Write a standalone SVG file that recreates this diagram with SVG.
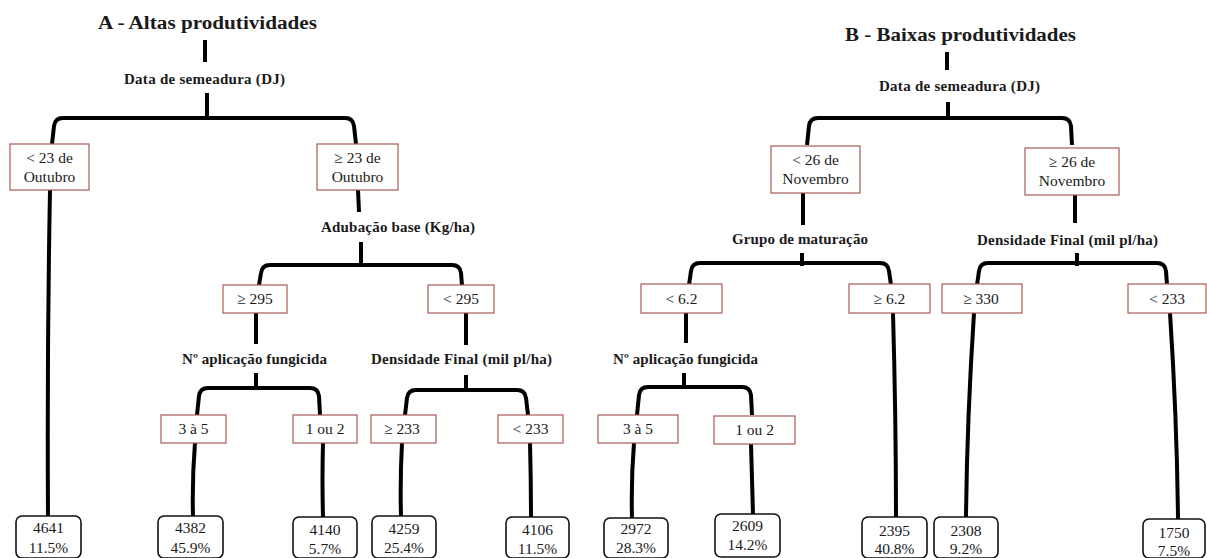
<svg xmlns="http://www.w3.org/2000/svg" width="1207" height="558" viewBox="0 0 1207 558">
<style>
text{font-family:"Liberation Serif","Times New Roman",serif;fill:#1a1a1a}
.title{font-size:18px;font-weight:bold}
.titleb{font-size:19.5px;font-weight:bold}
.lbl{font-size:15px;font-weight:bold}
.cond{font-size:15.5px}
.leaf{font-size:15.5px}
.cbox{fill:#fff;stroke:#a85a55;stroke-width:1.2}
.lbox{fill:#fff;stroke:#111;stroke-width:1.6}
.con{fill:none;stroke:#000;stroke-width:4;stroke-linecap:butt}
</style>
<rect width="1207" height="558" fill="#fff"/>
<g id="connectors">
<path class="con" d="M205 40 L205 62"/>
<path class="con" d="M207 93 L207 120"/>
<path class="con" d="M52 144 L54 126 Q55 118 63 118 L345 118 Q353 118 354 126 L356 144"/>
<path class="con" d="M50 190 Q47 350 48 516"/>
<path class="con" d="M358 190 L359 212"/>
<path class="con" d="M361 242 L361 267"/>
<path class="con" d="M259 285 L261 273 Q262 265 270 265 L452 265 Q460 265 461 273 L462 285"/>
<path class="con" d="M256 313 L256 344"/>
<path class="con" d="M466 313 L466 345"/>
<path class="con" d="M256 373 L256 390"/>
<path class="con" d="M197 415 L199 396 Q200 388 208 388 L310 388 Q318 388 319 396 L320 415"/>
<path class="con" d="M466 375 L466 392"/>
<path class="con" d="M405 415 L407 398 Q408 390 416 390 L517 390 Q525 390 526 398 L528 415"/>
<path class="con" d="M195 443 Q192 480 193 516"/>
<path class="con" d="M323 443 Q322 480 323 517"/>
<path class="con" d="M402 443 Q400 480 401 516"/>
<path class="con" d="M530 443 Q531 480 531 517"/>
<path class="con" d="M947 52 L947 70"/>
<path class="con" d="M948 102 L948 120"/>
<path class="con" d="M807 145 L809 126 Q810 118 818 118 L1062 118 Q1070 118 1071 126 L1072 145"/>
<path class="con" d="M803 193 L803 225"/>
<path class="con" d="M802 253 L802 266"/>
<path class="con" d="M689 285 L691 271 Q692 263 700 263 L880 263 Q888 263 889 271 L891 285"/>
<path class="con" d="M1075 195 L1075 223"/>
<path class="con" d="M1077 253 L1077 266"/>
<path class="con" d="M977 285 L979 271 Q980 263 988 263 L1157 263 Q1165 263 1166 271 L1167 285"/>
<path class="con" d="M686 313 L686 343"/>
<path class="con" d="M684 373 L684 389"/>
<path class="con" d="M637 415 L639 395 Q640 387 648 387 L742 387 Q750 387 751 395 L752 415"/>
<path class="con" d="M893 313 Q896 420 896 517"/>
<path class="con" d="M974 313 Q967 420 966 517"/>
<path class="con" d="M1170 313 Q1177 420 1178 519"/>
<path class="con" d="M634 443 Q631 480 632 518"/>
<path class="con" d="M751 444 Q752 480 753 514"/>
</g>
<g id="title-a"><text class="title" x="98" y="29" textLength="219" lengthAdjust="spacingAndGlyphs">A - Altas produtividades</text></g>
<g id="title-b"><text class="titleb" x="845" y="41" textLength="231" lengthAdjust="spacingAndGlyphs">B - Baixas produtividades</text></g>
<g id="a-dj"><text class="lbl" x="124" y="84" textLength="161" lengthAdjust="spacing">Data de semeadura (DJ)</text></g>
<g id="a-adub"><text class="lbl" x="321" y="232" textLength="154" lengthAdjust="spacing">Adubação base (Kg/ha)</text></g>
<g id="a-fung"><text class="lbl" x="182" y="364" textLength="145" lengthAdjust="spacing">Nº aplicação fungicida</text></g>
<g id="a-dens"><text class="lbl" x="371" y="364" textLength="181" lengthAdjust="spacing">Densidade Final (mil pl/ha)</text></g>
<g id="b-dj"><text class="lbl" x="879" y="91" textLength="161" lengthAdjust="spacing">Data de semeadura (DJ)</text></g>
<g id="b-grupo"><text class="lbl" x="732" y="244" textLength="136" lengthAdjust="spacing">Grupo de maturação</text></g>
<g id="b-dens"><text class="lbl" x="977" y="245" textLength="181" lengthAdjust="spacing">Densidade Final (mil pl/ha)</text></g>
<g id="b-fung"><text class="lbl" x="613" y="364" textLength="145" lengthAdjust="spacing">Nº aplicação fungicida</text></g>
<g id="a-lt23"><rect class="cbox" x="10" y="144" width="79" height="46"/><text class="cond" x="49.5" y="163" text-anchor="middle">&lt; 23 de</text><text class="cond" x="49.5" y="182" text-anchor="middle">Outubro</text></g>
<g id="a-ge23"><rect class="cbox" x="317" y="144" width="81" height="46"/><text class="cond" x="357.5" y="163" text-anchor="middle">≥ 23 de</text><text class="cond" x="357.5" y="182" text-anchor="middle">Outubro</text></g>
<g id="a-ge295"><rect class="cbox" x="223" y="285" width="64" height="28"/><text class="cond" x="255" y="304" text-anchor="middle">≥ 295</text></g>
<g id="a-lt295"><rect class="cbox" x="428" y="285" width="66" height="28"/><text class="cond" x="461" y="304" text-anchor="middle">&lt; 295</text></g>
<g id="a-3a5"><rect class="cbox" x="161" y="415" width="65" height="28"/><text class="cond" x="193.5" y="434" text-anchor="middle">3 à 5</text></g>
<g id="a-1ou2"><rect class="cbox" x="293" y="415" width="64" height="28"/><text class="cond" x="325" y="434" text-anchor="middle">1 ou 2</text></g>
<g id="a-ge233"><rect class="cbox" x="371" y="415" width="65" height="28"/><text class="cond" x="402" y="434" text-anchor="middle">≥ 233</text></g>
<g id="a-lt233"><rect class="cbox" x="498" y="415" width="65" height="28"/><text class="cond" x="530.5" y="434" text-anchor="middle">&lt; 233</text></g>
<g id="b-lt26"><rect class="cbox" x="771" y="146" width="89" height="47"/><text class="cond" x="815.5" y="165" text-anchor="middle">&lt; 26 de</text><text class="cond" x="815.5" y="184" text-anchor="middle">Novembro</text></g>
<g id="b-ge26"><rect class="cbox" x="1025" y="148" width="94" height="47"/><text class="cond" x="1072" y="167" text-anchor="middle">≥ 26 de</text><text class="cond" x="1072" y="186" text-anchor="middle">Novembro</text></g>
<g id="b-lt62"><rect class="cbox" x="641" y="284" width="81" height="29"/><text class="cond" x="681.5" y="304" text-anchor="middle">&lt; 6.2</text></g>
<g id="b-ge62"><rect class="cbox" x="849" y="284" width="81" height="29"/><text class="cond" x="889.5" y="304" text-anchor="middle">≥ 6.2</text></g>
<g id="b-ge330"><rect class="cbox" x="942" y="284" width="80" height="29"/><text class="cond" x="981" y="304" text-anchor="middle">≥ 330</text></g>
<g id="b-lt233"><rect class="cbox" x="1128" y="284" width="78" height="29"/><text class="cond" x="1167" y="304" text-anchor="middle">&lt; 233</text></g>
<g id="b-3a5"><rect class="cbox" x="598" y="415" width="80" height="28"/><text class="cond" x="638" y="434" text-anchor="middle">3 à 5</text></g>
<g id="b-1ou2"><rect class="cbox" x="714" y="416" width="81" height="28"/><text class="cond" x="754.5" y="435" text-anchor="middle">1 ou 2</text></g>
<g id="leaf-4641"><rect class="lbox" x="16" y="516" width="65" height="42" rx="6"/><text class="leaf" x="48.5" y="533" text-anchor="middle">4641</text><text class="leaf" x="48.5" y="553" text-anchor="middle">11.5%</text></g>
<g id="leaf-4382"><rect class="lbox" x="158" y="516" width="65" height="42" rx="6"/><text class="leaf" x="190.5" y="533" text-anchor="middle">4382</text><text class="leaf" x="190.5" y="553" text-anchor="middle">45.9%</text></g>
<g id="leaf-4140"><rect class="lbox" x="293" y="517" width="64" height="41" rx="6"/><text class="leaf" x="325" y="535" text-anchor="middle">4140</text><text class="leaf" x="325" y="554" text-anchor="middle">5.7%</text></g>
<g id="leaf-4259"><rect class="lbox" x="372" y="516" width="64" height="42" rx="6"/><text class="leaf" x="404" y="534" text-anchor="middle">4259</text><text class="leaf" x="404" y="553" text-anchor="middle">25.4%</text></g>
<g id="leaf-4106"><rect class="lbox" x="506" y="517" width="63" height="41" rx="6"/><text class="leaf" x="537.5" y="535" text-anchor="middle">4106</text><text class="leaf" x="537.5" y="554" text-anchor="middle">11.5%</text></g>
<g id="leaf-2972"><rect class="lbox" x="604" y="518" width="64" height="40" rx="6"/><text class="leaf" x="636" y="534" text-anchor="middle">2972</text><text class="leaf" x="636" y="553" text-anchor="middle">28.3%</text></g>
<g id="leaf-2609"><rect class="lbox" x="715" y="514" width="65" height="43" rx="6"/><text class="leaf" x="747.5" y="531" text-anchor="middle">2609</text><text class="leaf" x="747.5" y="550" text-anchor="middle">14.2%</text></g>
<g id="leaf-2395"><rect class="lbox" x="862" y="517" width="65" height="41" rx="6"/><text class="leaf" x="894.5" y="536" text-anchor="middle">2395</text><text class="leaf" x="894.5" y="554" text-anchor="middle">40.8%</text></g>
<g id="leaf-2308"><rect class="lbox" x="934" y="517" width="64" height="41" rx="6"/><text class="leaf" x="966" y="536" text-anchor="middle">2308</text><text class="leaf" x="966" y="554" text-anchor="middle">9.2%</text></g>
<g id="leaf-1750"><rect class="lbox" x="1143" y="519" width="62" height="39" rx="6"/><text class="leaf" x="1174" y="538" text-anchor="middle">1750</text><text class="leaf" x="1174" y="556" text-anchor="middle">7.5%</text></g>
</svg>
